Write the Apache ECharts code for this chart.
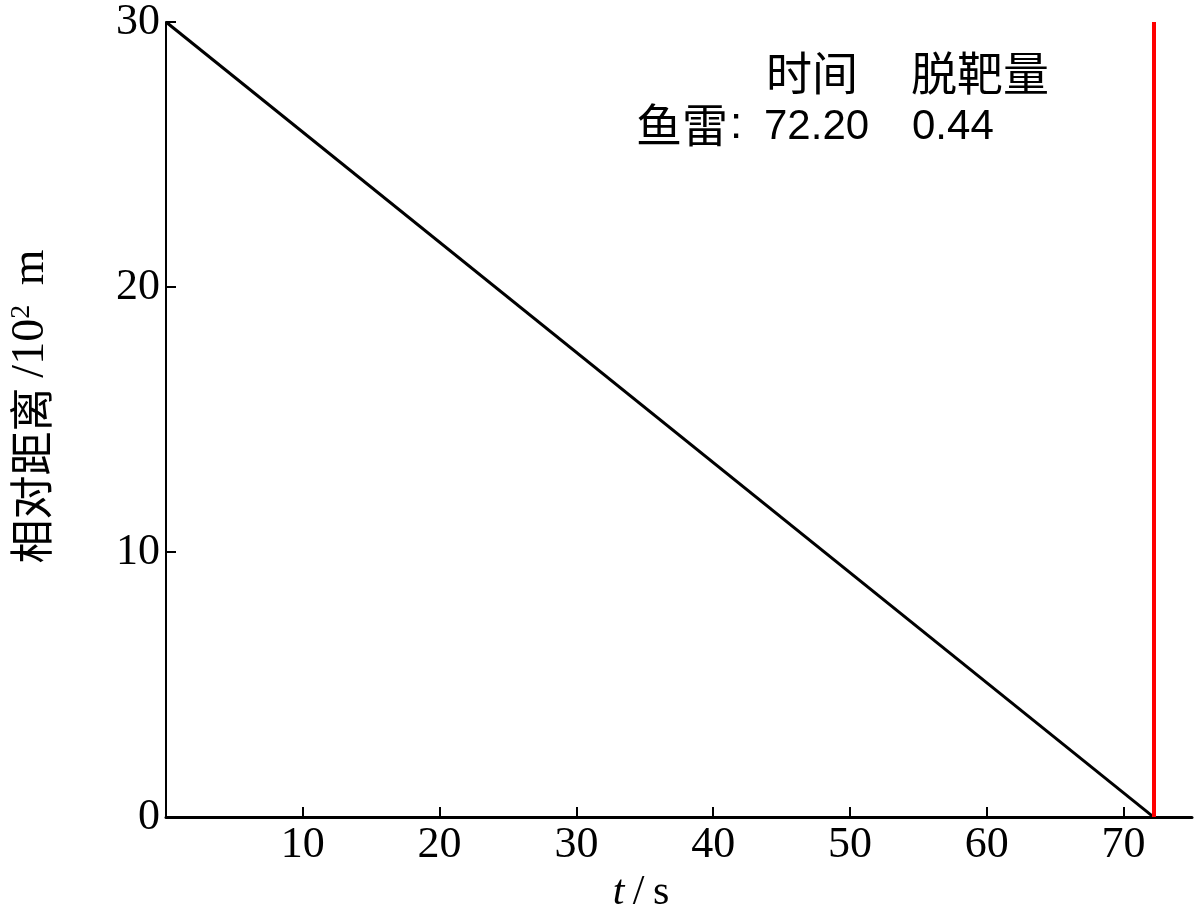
<!DOCTYPE html>
<html><head><meta charset="utf-8">
<script src="https://cdn.jsdelivr.net/npm/echarts@6/dist/echarts.min.js"></script>
<style>html,body{margin:0;padding:0;background:#fff}#c{width:1200px;height:919px}</style>
</head><body><div id="c"></div>
<script>
var timeVals = [0, 72.2];
var distVals = [30, 0];
var hitTime = 72.2;
var missDist = '0.44';
var xTicks = [0, 10, 20, 30, 40, 50, 60, 70];
var yTicks = [0, 10, 20, 30];

var serif = '"Liberation Serif","Times New Roman",serif';
var cjk = '"Noto Sans CJK SC",sans-serif';
var chart = echarts.init(document.getElementById('c'));
chart.setOption({
  animation: false,
  backgroundColor: '#fff',
  grid: {left: 166, right: 8, top: 19, bottom: 93, containLabel: false},
  xAxis: {
    type: 'value', min: 0, max: 75, interval: 10,
    axisLine: {show: true, lineStyle: {color: '#000', width: 3}},
    axisTick: {show: true, inside: true, length: 10, lineStyle: {color: '#000', width: 2}},
    axisLabel: {showMinLabel: false, showMaxLabel: false, color: '#000', fontFamily: serif, fontSize: 44, margin: 6},
    splitLine: {show: false},
    name: '{i|t}{n|\u2009/\u2009s}', nameLocation: 'middle', nameGap: 54,
    nameTextStyle: {padding: [0, 76, 0, 0], rich: {i: {fontFamily: serif, fontStyle: 'italic', fontSize: 42, color: '#000'}, n: {fontFamily: serif, fontSize: 42, color: '#000'}}}
  },
  yAxis: {
    type: 'value', min: 0, max: 30, interval: 10,
    axisLine: {show: true, lineStyle: {color: '#000', width: 2}},
    axisTick: {show: true, inside: true, length: 10, lineStyle: {color: '#000', width: 2}},
    axisLabel: {color: '#000', fontFamily: serif, fontSize: 44, margin: 6},
    splitLine: {show: false},
    name: '{c|相对距离 }{n|/10}{s|2}{n| m}', nameLocation: 'middle', nameGap: 112, nameRotate: 90,
    nameTextStyle: {padding: [0, 0, 0, 26], rich: {
      c: {fontFamily: cjk, fontSize: 44, color: '#000'},
      n: {fontFamily: serif, fontSize: 46, color: '#000'},
      s: {fontFamily: serif, fontSize: 28, color: '#000', verticalAlign: 'top', padding: [0, 8, 16, 0]}
    }}
  },
  series: [{
    type: 'line', symbol: 'none',
    data: timeVals.map(function (t, i) { return [t, distVals[i]]; }),
    lineStyle: {color: '#000', width: 3},
    markLine: {
      silent: true, symbol: 'none', label: {show: false},
      lineStyle: {color: '#ff0000', width: 4, type: 'solid'},
      data: [{xAxis: hitTime}]
    }
  }],
  graphic: [
    {type: 'text', left: 766, top: 50, style: {text: '时间', font: '46px "Noto Sans CJK SC"', fill: '#000'}},
    {type: 'text', left: 911, top: 50, style: {text: '脱靶量', font: '46px "Noto Sans CJK SC"', fill: '#000'}},
    {type: 'text', left: 636, top: 102, style: {text: '鱼雷', font: '46px "Noto Sans CJK SC"', fill: '#000'}},
    {type: 'text', left: 730, top: 104, style: {text: ':', font: '44px "Liberation Sans"', fill: '#000'}},
    {type: 'text', left: 764, top: 106, style: {text: hitTime.toFixed(2), font: '42px "Liberation Sans"', fill: '#000'}},
    {type: 'text', left: 912, top: 106, style: {text: missDist, font: '42px "Liberation Sans"', fill: '#000'}}
  ]
});
</script></body></html>
